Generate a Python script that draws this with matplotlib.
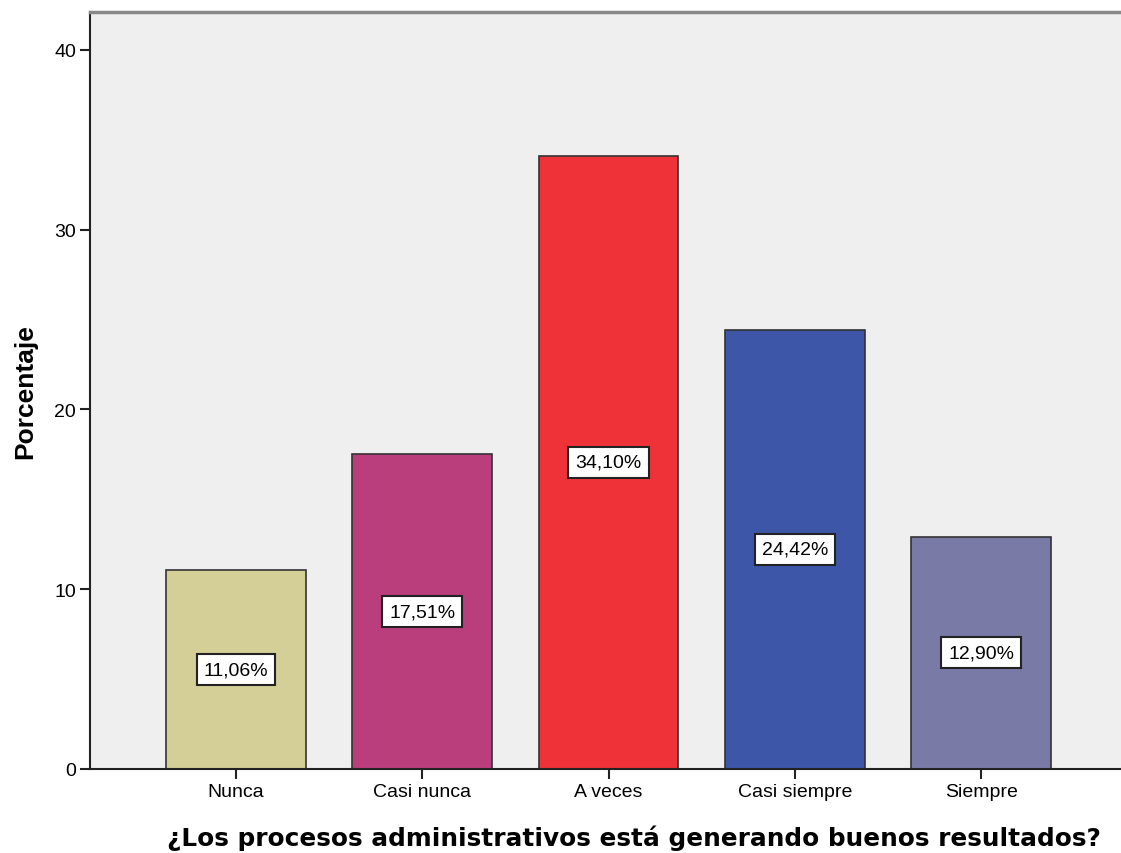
import matplotlib
matplotlib.use('Agg')
import matplotlib.pyplot as plt
import numpy as np

# response categories and percentages
categories = ['Nunca', 'Casi nunca', 'A veces', 'Casi siempre', 'Siempre']
percentages = [11.06, 17.51, 34.10, 24.42, 12.90]
bar_colors = ['#D3CF97', '#BA3E7C', '#EE3238', '#3E56A8', '#7A7AA6']
y_ticks = [0, 10, 20, 30, 40]

fig = plt.figure(figsize=(11.21, 8.54), dpi=100)
ax = fig.add_axes([0.0803, 0.0984, 0.9197, 0.8864])
ax.set_facecolor('#EFEFEF')

x = np.arange(len(categories))
ax.bar(x, percentages, width=0.75, color=bar_colors,
       edgecolor='#333333', linewidth=1.2, zorder=2)

for xi, val in zip(x, percentages):
    label = f'{val:.2f}%'.replace('.', ',')
    ax.text(xi, val / 2, label, ha='center', va='center',
            fontsize=14, family='Liberation Sans', zorder=3,
            bbox=dict(boxstyle='square,pad=0.36', facecolor='white',
                      edgecolor='#222222', linewidth=1.5))

ax.set_xlim(-0.783, 4.75)
ax.set_ylim(0, 42.1)
ax.set_xticks(x)
ax.set_xticklabels(categories, family='Liberation Sans', fontsize=14)
ax.set_yticks(y_ticks)
ax.set_yticklabels([str(t) for t in y_ticks], family='Liberation Sans', fontsize=14)
ax.tick_params(axis='both', length=7, width=1.5, color='#222222', pad=3)

ax.spines['right'].set_visible(False)
ax.spines['top'].set_color('#888888')
ax.spines['top'].set_linewidth(2.5)
ax.spines['left'].set_color('#222222')
ax.spines['left'].set_linewidth(1.5)
ax.spines['bottom'].set_color('#222222')
ax.spines['bottom'].set_linewidth(1.5)

ax.set_ylabel('Porcentaje', fontsize=19, fontweight='bold',
              family='Liberation Sans', labelpad=12)
ax.set_xlabel('¿Los procesos administrativos está generando buenos resultados?',
              fontsize=17.8, fontweight='bold', family='DejaVu Sans')
ax.xaxis.label.set_va('center')
ax.xaxis.set_label_coords(0.528, -0.09)

fig.savefig('out.png', dpi=100)
